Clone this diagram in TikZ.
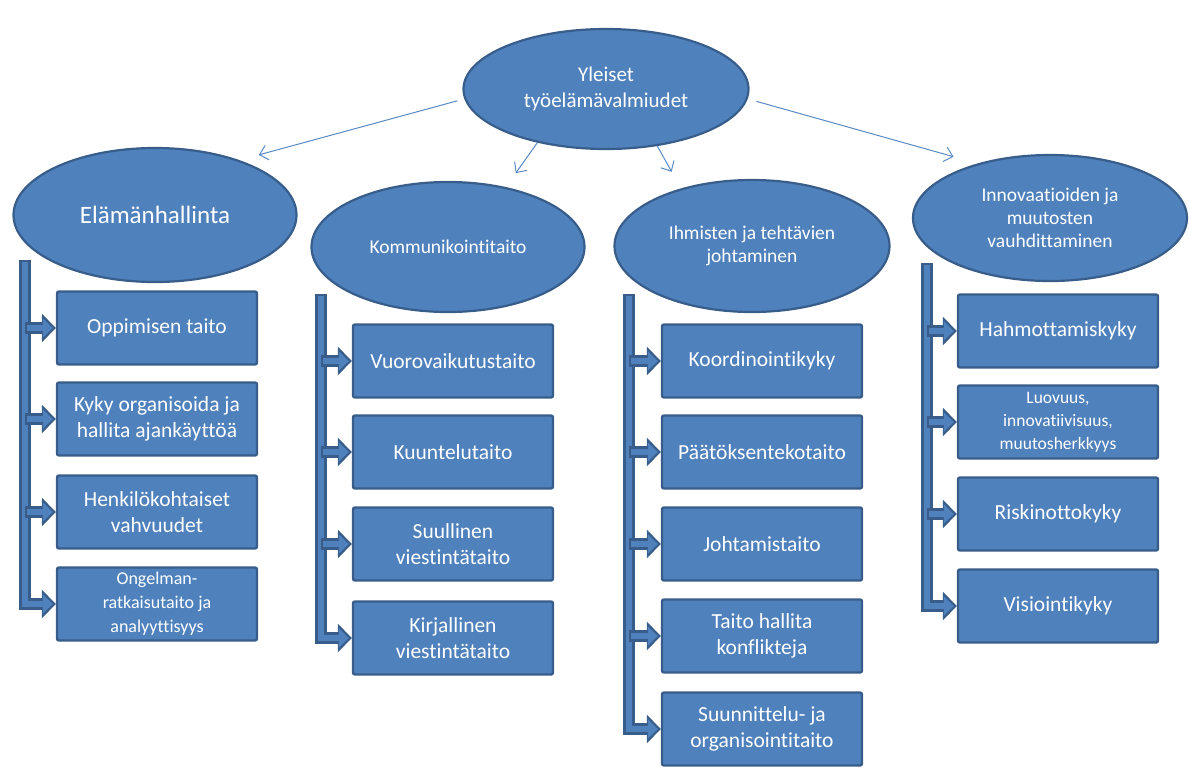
\documentclass[tikz,border=0pt]{standalone}
\usepackage{fontspec}
\setmainfont{Carlito}[Ligatures=NoCommon]
\usetikzlibrary{arrows.meta,shapes.geometric}
\definecolor{fillb}{HTML}{4F81BD}
\definecolor{edgeb}{HTML}{385D8A}
\definecolor{arrowb}{HTML}{5A8AC6}
\begin{document}
\begin{tikzpicture}[x=1pt,y=-1pt,
 ellnode/.style={ellipse, fill=fillb, draw=edgeb, line width=2.2pt, text=white, align=center, inner sep=0pt},
 boxnode/.style={rectangle, rounded corners=2pt, fill=fillb, draw=edgeb, line width=2.4pt, text=white, align=center, minimum width=200pt, minimum height=73pt, inner sep=2pt, font=\fontsize{21.5}{26}\selectfont},
 smalltext/.style={font=\fontsize{18}{24}\selectfont},
 topar/.style={draw=arrowb, line width=1pt, -{Straight Barb[length=8pt,width=15pt]}},
 band/.style={draw=edgeb, line width=12pt, -{Triangle[length=14pt,width=28pt]},
   postaction={draw=fillb, line width=6pt, shorten >=3pt, shorten <=2pt, -{Triangle[length=10pt,width=19pt]}}}
]
\useasboundingbox (0,0) rectangle (1189,769);

% main ellipse and categories
\node[ellnode, minimum width=285pt, minimum height=120pt, font=\fontsize{21}{26}\selectfont] (top) at (606,89) {Yleiset\\työelämävalmiudet};
\node[ellnode, minimum width=283pt, minimum height=134pt, font=\fontsize{25}{30}\selectfont] (elam) at (155,215) {Elämänhallinta};
\node[ellnode, minimum width=273pt, minimum height=130pt, font=\fontsize{19.5}{23}\selectfont] (komm) at (448,247) {Kommunikointitaito};
\node[ellnode, minimum width=275pt, minimum height=132pt, font=\fontsize{19.5}{23}\selectfont] (ihm) at (752,246) {Ihmisten ja tehtävien\\johtaminen};
\node[ellnode, minimum width=274pt, minimum height=126pt, font=\fontsize{19.5}{23}\selectfont] (inn) at (1050,218) {Innovaatioiden ja\\muutosten\\vauhdittaminen};

% thin arrows
\draw[topar, shorten <=7pt, shorten >=20pt] (top.184) -- (elam.33);
\draw[topar, shorten >=17pt] (top.218) -- (komm.46);
\draw[topar, shorten >=19pt] (top.312) -- (ihm.141);
\draw[topar, shorten <=9pt, shorten >=25pt] (top.356) -- (inn.143);

% column 1
\node[boxnode] (b11) at (157,328) {Oppimisen taito};
\node[boxnode] (b12) at (157,419) {Kyky organisoida ja\\hallita ajankäyttöä};
\node[boxnode] (b13) at (157,512) {Henkilökohtaiset\\vahvuudet};
\node[boxnode, smalltext] (b14) at (157,604) {Ongelman-\\ratkaisutaito ja\\analyyttisyys};
% column 2
\node[boxnode] (b21) at (453,361) {Vuorovaikutustaito};
\node[boxnode] (b22) at (453,452) {Kuuntelutaito};
\node[boxnode] (b23) at (453,544) {Suullinen\\viestintätaito};
\node[boxnode] (b24) at (453,638) {Kirjallinen\\viestintätaito};
% column 3
\node[boxnode] (b31) at (762,361) {Koordinointikyky};
\node[boxnode] (b32) at (762,452) {Päätöksentekotaito};
\node[boxnode] (b33) at (762,544) {Johtamistaito};
\node[boxnode] (b34) at (762,636) {Taito hallita\\konflikteja};
\node[boxnode] (b35) at (762,729) {Suunnittelu- ja\\organisointitaito};
% column 4
\node[boxnode] (b41) at (1058,331) {Hahmottamiskyky};
\node[boxnode, font=\fontsize{17.5}{23}\selectfont] (b42) at (1058,422) {Luovuus,\\innovatiivisuus,\\muutosherkkyys};
\node[boxnode] (b43) at (1058,514) {Riskinottokyky};
\node[boxnode] (b44) at (1058,606) {Visiointikyky};

% trunk coordinates
\coordinate (t1) at (25,260);
\coordinate (t2) at (321,294);
\coordinate (t3) at (629,294);
\coordinate (t4) at (927,263);

% band connectors
\draw[band] (t1) |- (b14.west);
\draw[band] (t1 |- b13.west) -- (b13.west);
\draw[band] (t1 |- b12.west) -- (b12.west);
\draw[band] (t1 |- b11.west) -- (b11.west);

\draw[band] (t2) |- (b24.west);
\draw[band] (t2 |- b23.west) -- (b23.west);
\draw[band] (t2 |- b22.west) -- (b22.west);
\draw[band] (t2 |- b21.west) -- (b21.west);

\draw[band] (t3) |- (b35.west);
\draw[band] (t3 |- b34.west) -- (b34.west);
\draw[band] (t3 |- b33.west) -- (b33.west);
\draw[band] (t3 |- b32.west) -- (b32.west);
\draw[band] (t3 |- b31.west) -- (b31.west);

\draw[band] (t4) |- (b44.west);
\draw[band] (t4 |- b43.west) -- (b43.west);
\draw[band] (t4 |- b42.west) -- (b42.west);
\draw[band] (t4 |- b41.west) -- (b41.west);
\end{tikzpicture}
\end{document}
